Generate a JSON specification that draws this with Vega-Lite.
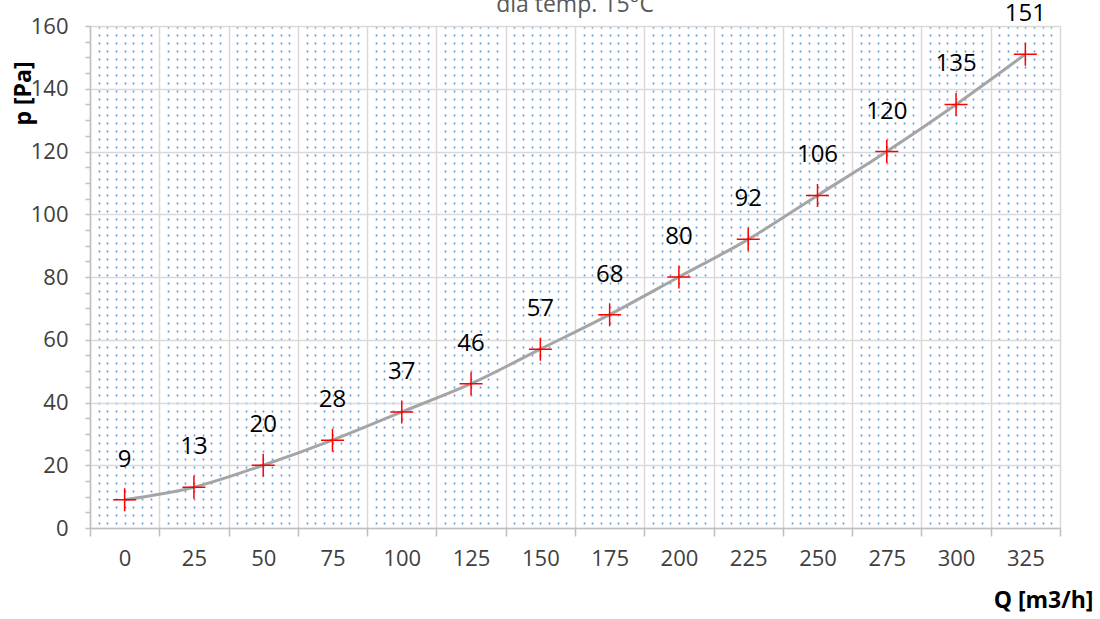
{
  "$schema": "https://vega.github.io/schema/vega-lite/v6.json",
  "width": 970,
  "height": 502,
  "autosize": "none",
  "padding": {"left": 90, "top": 26, "right": 40, "bottom": 91},
  "background": "white",
  "config": {"view": {"stroke": null}, "font": "Open Sans"},
  "title": {"text": "dla temp. 15°C", "fontSize": 23, "fontWeight": "normal", "color": "#595959", "anchor": "middle", "frame": "group", "baseline": "alphabetic", "offset": -33},
  "data": {"values": [
    {"Q": 0, "p": 9},
    {"Q": 25, "p": 13},
    {"Q": 50, "p": 20},
    {"Q": 75, "p": 28},
    {"Q": 100, "p": 37},
    {"Q": 125, "p": 46},
    {"Q": 150, "p": 57},
    {"Q": 175, "p": 68},
    {"Q": 200, "p": 80},
    {"Q": 225, "p": 92},
    {"Q": 250, "p": 106},
    {"Q": 275, "p": 120},
    {"Q": 300, "p": 135},
    {"Q": 325, "p": 151}
  ]},
  "layer": [
    {
      "mark": {"type": "point", "opacity": 0},
      "encoding": {
        "x": {"field": "Q", "type": "quantitative", "scale": {"domain": [-12.5, 337.5], "nice": false, "zero": false},
          "axis": {"orient": "bottom", "values": [-9.375,-6.25,-3.125,0,3.125,6.25,9.375,15.625,18.75,21.875,25,28.125,31.25,34.375,40.625,43.75,46.875,50,53.125,56.25,59.375,65.625,68.75,71.875,75,78.125,81.25,84.375,90.625,93.75,96.875,100,103.125,106.25,109.375,115.625,118.75,121.875,125,128.125,131.25,134.375,140.625,143.75,146.875,150,153.125,156.25,159.375,165.625,168.75,171.875,175,178.125,181.25,184.375,190.625,193.75,196.875,200,203.125,206.25,209.375,215.625,218.75,221.875,225,228.125,231.25,234.375,240.625,243.75,246.875,250,253.125,256.25,259.375,265.625,268.75,271.875,275,278.125,281.25,284.375,290.625,293.75,296.875,300,303.125,306.25,309.375,315.625,318.75,321.875,325,328.125,331.25,334.375],
            "grid": true, "gridColor": "#4A90D9", "gridDash": [2, 6], "gridWidth": 1.6, "gridOpacity": 0.9,
            "labels": false, "ticks": false, "domain": false, "title": null, "zindex": 0}},
        "y": {"field": "p", "type": "quantitative", "scale": {"domain": [0, 160], "nice": false},
          "axis": {"orient": "left", "values": [5,10,15,25,30,35,45,50,55,65,70,75,85,90,95,105,110,115,125,130,135,145,150,155],
            "grid": false, "tickSize": 5, "tickColor": "#bfbfbf", "tickWidth": 1.5, "labels": false, "domain": false, "title": null, "zindex": 0}}
      }
    },
    {
      "mark": {"type": "point", "opacity": 0},
      "encoding": {
        "x": {"field": "Q", "type": "quantitative", "scale": {"domain": [-12.5, 337.5], "nice": false, "zero": false},
          "axis": {"orient": "bottom", "values": [-12.5,12.5,37.5,62.5,87.5,112.5,137.5,162.5,187.5,212.5,237.5,262.5,287.5,312.5,337.5],
            "grid": true, "gridColor": "#d9d9d9", "gridWidth": 1.5, "tickSize": 8, "tickColor": "#bfbfbf", "tickWidth": 1.5,
            "labels": false, "domain": true, "domainColor": "#bfbfbf", "domainWidth": 1.5, "title": null, "zindex": 0}},
        "y": {"field": "p", "type": "quantitative", "scale": {"domain": [0, 160], "nice": false},
          "axis": {"orient": "left", "values": [0,20,40,60,80,100,120,140,160],
            "grid": true, "gridColor": "#d9d9d9", "gridWidth": 1.5, "tickSize": 5, "tickColor": "#bfbfbf", "tickWidth": 1.5,
            "domain": true, "domainColor": "#bfbfbf", "domainWidth": 1.5,
            "labelFontSize": 22, "labelColor": "#404040", "labelPadding": 17,
            "title": "p [Pa]", "titleFontSize": 23, "titleFontWeight": "bold", "titleColor": "#000000",
            "titleX": -67, "titleY": 67, "titleAngle": -90, "titleAlign": "center", "titleBaseline": "middle", "zindex": 0}}
      }
    },
    {
      "mark": {"type": "line", "interpolate": "monotone", "color": "#A5A5A5", "strokeWidth": 3},
      "encoding": {
        "x": {"field": "Q", "type": "quantitative", "scale": {"domain": [-12.5, 337.5], "nice": false, "zero": false},
          "axis": {"orient": "bottom", "values": [0,25,50,75,100,125,150,175,200,225,250,275,300,325],
            "grid": false, "ticks": false, "domain": false,
            "labelFontSize": 22, "labelColor": "#404040", "labelPadding": 20,
            "title": "Q [m3/h]", "titleFontSize": 23, "titleFontWeight": "bold", "titleColor": "#000000",
            "titleX": 1003, "titleY": 72, "titleAlign": "right", "titleBaseline": "middle", "zindex": 1}},
        "y": {"field": "p", "type": "quantitative", "scale": {"domain": [0, 160], "nice": false}, "axis": null}
      }
    },
    {
      "mark": {"type": "point", "shape": "M-1,0L1,0M0,-1L0,1", "size": 529, "color": "#FF0000", "strokeWidth": 1.5, "filled": false, "opacity": 1},
      "encoding": {
        "x": {"field": "Q", "type": "quantitative", "axis": null},
        "y": {"field": "p", "type": "quantitative", "axis": null}
      }
    },
    {
      "mark": {"type": "text", "dy": -40, "fontSize": 24, "color": "#000000", "baseline": "middle", "align": "center"},
      "encoding": {
        "x": {"field": "Q", "type": "quantitative", "axis": null},
        "y": {"field": "p", "type": "quantitative", "axis": null},
        "text": {"field": "p", "type": "quantitative"}
      }
    }
  ],
  "resolve": {"axis": {"x": "independent", "y": "independent"}}
}
